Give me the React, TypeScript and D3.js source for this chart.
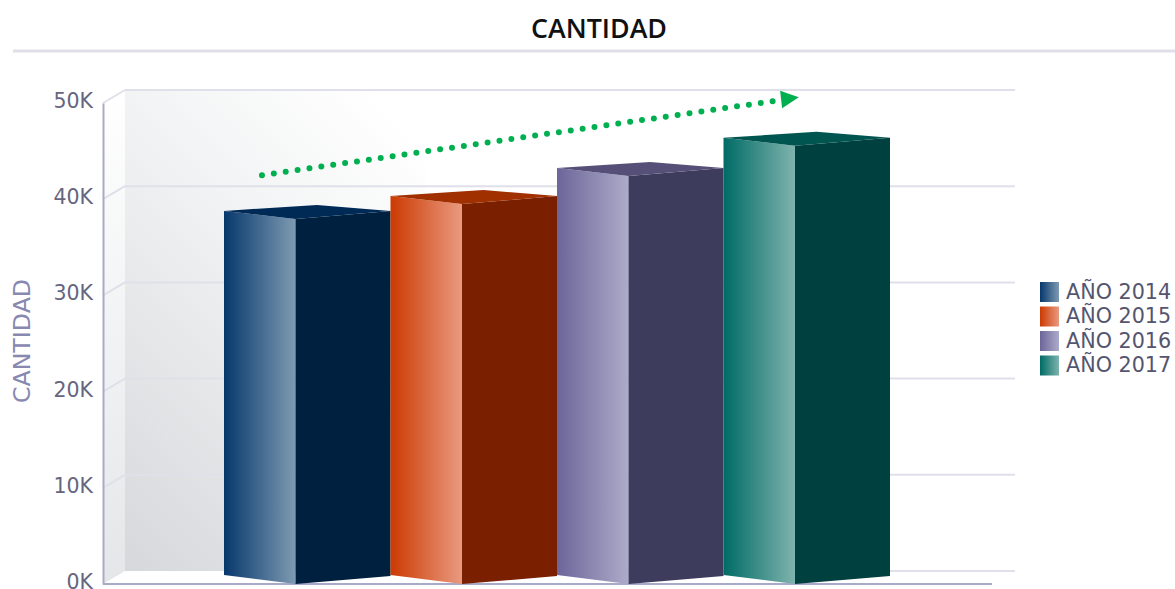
import React, { useRef, useEffect } from "react";
import * as d3 from "d3";

const WIDTH = 1175;
const HEIGHT = 589;

const categories = ["AÑO 2014", "AÑO 2015", "AÑO 2016", "AÑO 2017"];
const values = [37950, 39500, 42400, 45550];
const yTicks = [0, 10000, 20000, 30000, 40000, 50000];
// start and end of the green trend arrow: bar position, value
const trendPos = [0.228, 3.34];
const trendValues = [42500, 50300];

const faceStart = ["#07386c", "#cc3a02", "#6b6699", "#006b65"];
const faceEnd = ["#7e9ab2", "#e99a80", "#adabca", "#7fb3ae"];
const sideColors = ["#00203f", "#7a2000", "#3e3c5c", "#00403e"];
const topColors = ["#002a56", "#a03000", "#565079", "#005550"];

const PLOT = { left: 103, right: 992, top: 103, bottom: 584 };
const DEPTH = { x: 22, y: 13 };
const BARS = { left: 224, right: 890 };

export default function App() {
  const svgRef = useRef<SVGSVGElement | null>(null);

  useEffect(() => {
    const svg = d3.select(svgRef.current);
    svg.selectAll("*").remove();

    const x = d3
      .scaleBand<string>()
      .domain(categories)
      .range([BARS.left, BARS.right]);
    const xPos = d3
      .scaleLinear()
      .domain([0, categories.length])
      .range([BARS.left, BARS.right]);
    const y = d3
      .scaleLinear()
      .domain([0, 50000])
      .range([PLOT.bottom, PLOT.top]);

    const defs = svg.append("defs");

    // Back wall
    const wall = defs
      .append("linearGradient")
      .attr("id", "wall")
      .attr("gradientUnits", "userSpaceOnUse")
      .attr("x1", PLOT.left + DEPTH.x)
      .attr("y1", y(0) - DEPTH.y)
      .attr("x2", 488)
      .attr("y2", 209);
    wall.append("stop").attr("offset", 0).attr("stop-color", "#d6d8db");
    wall.append("stop").attr("offset", 0.66).attr("stop-color", "#f2f3f4");
    wall.append("stop").attr("offset", 1).attr("stop-color", "#ffffff");

    const side = defs
      .append("linearGradient")
      .attr("id", "side")
      .attr("x1", 0)
      .attr("y1", 1)
      .attr("x2", 0)
      .attr("y2", 0);
    side.append("stop").attr("offset", 0).attr("stop-color", "#e4e6e8");
    side.append("stop").attr("offset", 1).attr("stop-color", "#ffffff");

    categories.forEach((_, i) => {
      const g = defs.append("linearGradient").attr("id", `face${i}`);
      g.append("stop").attr("offset", 0).attr("stop-color", faceStart[i]);
      g.append("stop").attr("offset", 1).attr("stop-color", faceEnd[i]);
      const l = defs.append("linearGradient").attr("id", `swatch${i}`);
      l.append("stop").attr("offset", 0).attr("stop-color", faceStart[i]);
      l.append("stop").attr("offset", 1).attr("stop-color", faceEnd[i]);
    });

    // Title
    svg
      .append("text")
      .attr("x", 599)
      .attr("y", 37.5)
      .attr("text-anchor", "middle")
      .attr("font-family", "Open Sans")
      .attr("font-weight", 600)
      .attr("font-size", 26.8)
      .attr("fill", "#111")
      .text("CANTIDAD");
    svg
      .append("line")
      .attr("x1", 13)
      .attr("x2", WIDTH)
      .attr("y1", 51)
      .attr("y2", 51)
      .attr("stroke", "#dfdfea")
      .attr("stroke-width", 3);

    // Walls
    svg
      .append("rect")
      .attr("x", PLOT.left + DEPTH.x)
      .attr("y", y(50000) - DEPTH.y)
      .attr("width", 300)
      .attr("height", y(0) - y(50000))
      .attr("fill", "url(#wall)");
    svg
      .append("path")
      .attr(
        "d",
        `M${PLOT.left},${y(0)}L${PLOT.left},${y(50000)}L${PLOT.left + DEPTH.x},${
          y(50000) - DEPTH.y
        }L${PLOT.left + DEPTH.x},${y(0) - DEPTH.y}Z`
      )
      .attr("fill", "url(#side)");

    // Grid
    const grid = svg.append("g");
    grid
      .selectAll("line.back")
      .data(yTicks)
      .enter()
      .append("line")
      .attr("class", "back")
      .attr("x1", (d) => (d === 0 ? BARS.left : PLOT.left + DEPTH.x))
      .attr("x2", 1015)
      .attr("y1", (d) => y(d) - DEPTH.y)
      .attr("y2", (d) => y(d) - DEPTH.y);
    grid
      .selectAll("line.diag")
      .data(yTicks.filter((d) => d > 0))
      .enter()
      .append("line")
      .attr("class", "diag")
      .attr("x1", PLOT.left)
      .attr("x2", PLOT.left + DEPTH.x)
      .attr("y1", (d) => y(d))
      .attr("y2", (d) => y(d) - DEPTH.y);
    grid.selectAll("line").attr("stroke", "#e0e0ea").attr("stroke-width", 2);

    // Axes
    const axis = d3
      .axisLeft(y)
      .tickValues(yTicks)
      .tickSize(0)
      .tickPadding(10)
      .tickFormat((d) => `${+d / 1000}K`);
    const axisG = svg
      .append("g")
      .attr("transform", `translate(${PLOT.left},0)`)
      .call(axis);
    axisG.select(".domain").attr("stroke", "#a9a9c8").attr("stroke-width", 2);
    axisG
      .selectAll("text")
      .attr("dy", "0.22em")
      .attr("font-family", "DejaVu Sans")
      .attr("font-size", 20.5)
      .attr("fill", "#666680");
    svg
      .append("line")
      .attr("x1", PLOT.left)
      .attr("x2", PLOT.right)
      .attr("y1", y(0))
      .attr("y2", y(0))
      .attr("stroke", "#a9a9c8")
      .attr("stroke-width", 2);

    svg
      .append("text")
      .attr("transform", "translate(30,341) rotate(-90)")
      .attr("text-anchor", "middle")
      .attr("font-family", "DejaVu Sans")
      .attr("font-size", 23.7)
      .attr("fill", "#8888b0")
      .text("CANTIDAD");

    // Bars: front face, side face, top
    const bars = svg
      .selectAll("g.bar")
      .data(categories)
      .enter()
      .append("g")
      .attr("class", "bar");
    const faceW = 71.5;
    bars.each(function (c, i) {
      const g = d3.select(this);
      const x0 = x(c)!;
      const x1 = x0 + x.bandwidth();
      const xc = x0 + faceW;
      const yTop = y(values[i]);
      const yBase = y(0);
      g.append("path")
        .attr(
          "d",
          `M${x0},${yTop - 8}L${xc},${yTop}L${xc},${yBase}L${x0},${yBase - 9}Z`
        )
        .attr("fill", `url(#face${i})`);
      g.append("path")
        .attr(
          "d",
          `M${xc},${yTop}L${x1},${yTop - 8}L${x1},${yBase - 8}L${xc},${yBase}Z`
        )
        .attr("fill", sideColors[i]);
      g.append("path")
        .attr(
          "d",
          `M${x0},${yTop - 8}L${x0 + 93},${yTop - 14}L${x1},${yTop - 8}L${xc},${yTop}Z`
        )
        .attr("fill", topColors[i]);
    });

    // Trend arrow
    const tx = trendPos.map((p) => xPos(p));
    const ty = trendValues.map((v) => y(v));
    svg
      .append("line")
      .attr("x1", tx[0])
      .attr("y1", ty[0])
      .attr("x2", tx[1])
      .attr("y2", ty[1])
      .attr("stroke", "#00b050")
      .attr("stroke-width", 6)
      .attr("stroke-linecap", "round")
      .attr("stroke-dasharray", "0 12");
    svg
      .append("path")
      .attr(
        "d",
        `M${tx[1]},${ty[1] - 9.4}L${tx[1] + 18.7},${ty[1] - 2.8}L${tx[1] + 2},${ty[1] + 8.2}Z`
      )
      .attr("fill", "#00b050");

    // Legend
    const legend = svg
      .selectAll("g.legend")
      .data(categories)
      .enter()
      .append("g")
      .attr("class", "legend")
      .attr("transform", (_, i) => `translate(1040,${282 + i * 24.5})`);
    legend
      .append("rect")
      .attr("width", 19)
      .attr("height", 20)
      .attr("fill", (_, i) => `url(#swatch${i})`);
    legend
      .append("text")
      .attr("x", 26)
      .attr("y", 16.5)
      .attr("font-family", "DejaVu Sans")
      .attr("font-size", 20.7)
      .attr("fill", "#55556f")
      .text((d) => d);
  }, []);

  return (
    <svg
      ref={svgRef}
      width={WIDTH}
      height={HEIGHT}
      style={{ position: "absolute", left: 0, top: 0, background: "#fff" }}
    />
  );
}
